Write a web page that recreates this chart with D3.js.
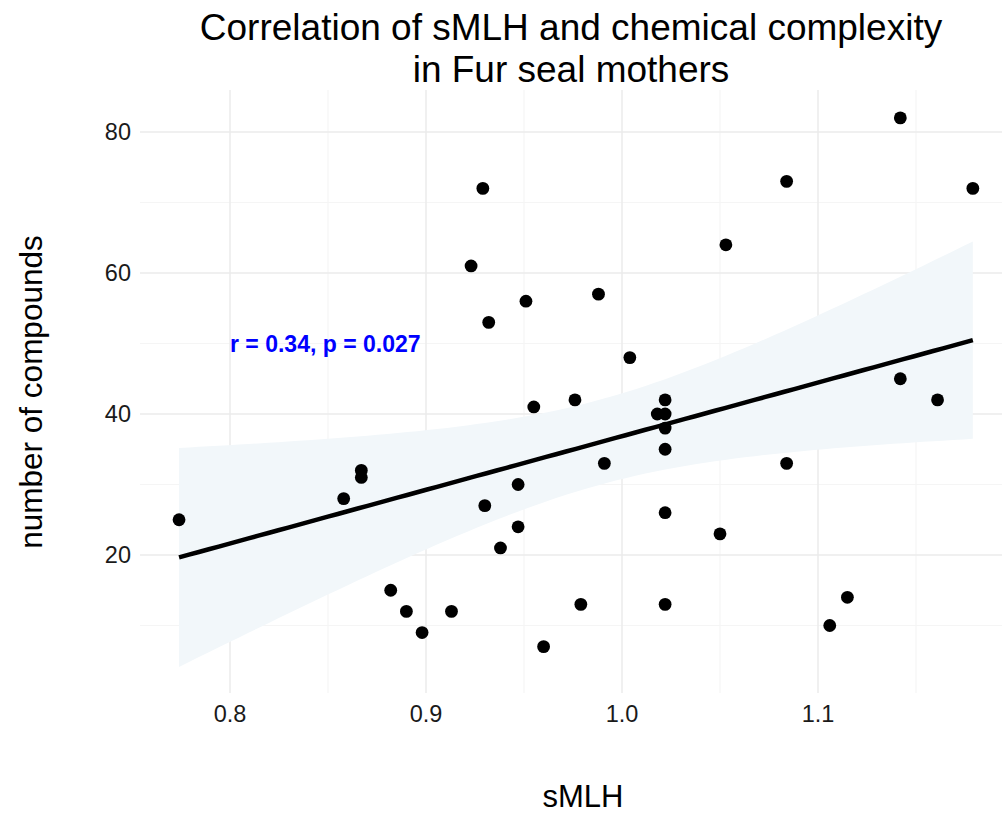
<!DOCTYPE html>
<html><head><meta charset="utf-8">
<script src="https://cdn.jsdelivr.net/npm/d3@7"></script>
<style>body{margin:0;background:#fff}svg text{font-family:"Liberation Sans",Arial,sans-serif}</style>
</head><body><svg id="c" width="1002" height="816"></svg>
<script>
const smlh = [0.774,0.858,0.867,0.867,0.882,0.890,0.898,0.913,0.923,0.929,0.932,0.930,0.938,0.947,0.947,0.951,0.955,0.960,0.976,0.979,0.988,0.991,1.004,1.018,1.022,1.022,1.022,1.022,1.022,1.022,1.050,1.053,1.084,1.084,1.106,1.115,1.142,1.142,1.161,1.179];
const compounds = [25,28,32,31,15,12,9,12,61,72,53,27,21,30,24,56,41,7,42,13,57,33,48,40,42,40,38,35,26,13,23,64,73,33,10,14,82,45,42,72];
const xTicks = [0.8,0.9,1.0,1.1];
const xMinor = [0.75,0.85,0.95,1.05,1.15];
const yTicks = [20,40,60,80];
const yMinor = [10,30,50,70];
const labelText = "r = 0.34, p = 0.027";
const labelPos = [0.8, 50];

const svg = d3.select("#c");
const x = d3.scaleLinear().domain([0.8,1.1]).range([230,818]);
const y = d3.scaleLinear().domain([20,80]).range([555,132]);
const P = {l:140, r:1012, t:90, b:693};

svg.append("clipPath").attr("id","clip").append("rect")
  .attr("x",P.l).attr("y",P.t).attr("width",P.r-P.l).attr("height",P.b-P.t);
const g = svg.append("g").attr("clip-path","url(#clip)");

// grid
g.selectAll(".ym").data(yMinor).join("line").attr("x1",P.l).attr("x2",P.r)
  .attr("y1",d=>y(d)).attr("y2",d=>y(d)).attr("stroke","#f5f5f5").attr("stroke-width",1.2);
g.selectAll(".xm").data(xMinor).join("line").attr("y1",P.t).attr("y2",P.b)
  .attr("x1",d=>x(d)).attr("x2",d=>x(d)).attr("stroke","#f5f5f5").attr("stroke-width",1.2);
g.selectAll(".yM").data(yTicks).join("line").attr("x1",P.l).attr("x2",P.r)
  .attr("y1",d=>y(d)).attr("y2",d=>y(d)).attr("stroke","#ebebeb").attr("stroke-width",1.5);
g.selectAll(".xM").data(xTicks).join("line").attr("y1",P.t).attr("y2",P.b)
  .attr("x1",d=>x(d)).attr("x2",d=>x(d)).attr("stroke","#ebebeb").attr("stroke-width",1.5);

// regression
const n = smlh.length;
const mx = d3.mean(smlh), my = d3.mean(compounds);
let sxx=0, sxy=0;
for(let i=0;i<n;i++){sxx+=(smlh[i]-mx)**2; sxy+=(smlh[i]-mx)*(compounds[i]-my);}
const b = sxy/sxx, a = my - b*mx;
let sse=0; for(let i=0;i<n;i++){sse+=(compounds[i]-a-b*smlh[i])**2;}
const s = Math.sqrt(sse/(n-2));
const tq = 2.024;
const [x0,x1] = d3.extent(smlh);
const grid = d3.range(81).map(i=>x0+(x1-x0)*i/80);
const band = grid.map(v=>{const f=a+b*v; const se=s*Math.sqrt(1/n+(v-mx)**2/sxx); return {v,f,lo:f-tq*se,hi:f+tq*se};});
g.append("path").datum(band).attr("fill","#f2f7fa")
  .attr("d",d3.area().x(d=>x(d.v)).y0(d=>y(d.lo)).y1(d=>y(d.hi)));
g.append("path").datum(band).attr("fill","none").attr("stroke","#000").attr("stroke-width",4.5)
  .attr("d",d3.line().x(d=>x(d.v)).y(d=>y(d.f)));

// points
g.selectAll("circle").data(smlh).join("circle")
  .attr("cx",d=>x(d)).attr("cy",(d,i)=>y(compounds[i])).attr("r",6.4).attr("fill","#000");

// label
svg.append("text").attr("x",x(labelPos[0])).attr("y",y(labelPos[1])).attr("dy","0.35em")
  .attr("fill","#0000ff").attr("font-weight","bold").attr("font-size",23).text(labelText);

// ticks
svg.selectAll(".xt").data(xTicks).join("text").attr("x",d=>x(d)).attr("y",722)
  .attr("text-anchor","middle").attr("font-size",23.5).attr("fill","#1a1a1a").text(d=>d.toFixed(1));
svg.selectAll(".yt").data(yTicks).join("text").attr("x",131).attr("y",d=>y(d)).attr("dy","0.36em")
  .attr("text-anchor","end").attr("font-size",23.5).attr("fill","#1a1a1a").text(d=>d);

// axis titles
svg.append("text").attr("x",583).attr("y",807).attr("text-anchor","middle")
  .attr("font-size",31).attr("fill","#000").text("sMLH");
svg.append("text").attr("transform","translate(42,392) rotate(-90)").attr("text-anchor","middle")
  .attr("font-size",31.5).attr("fill","#000").text("number of compounds");

// title
svg.append("text").attr("x",571).attr("y",40).attr("text-anchor","middle").attr("font-size",37)
  .attr("fill","#000").text("Correlation of sMLH and chemical complexity");
svg.append("text").attr("x",571).attr("y",82).attr("text-anchor","middle").attr("font-size",37)
  .attr("fill","#000").text("in Fur seal mothers");
</script></body></html>
